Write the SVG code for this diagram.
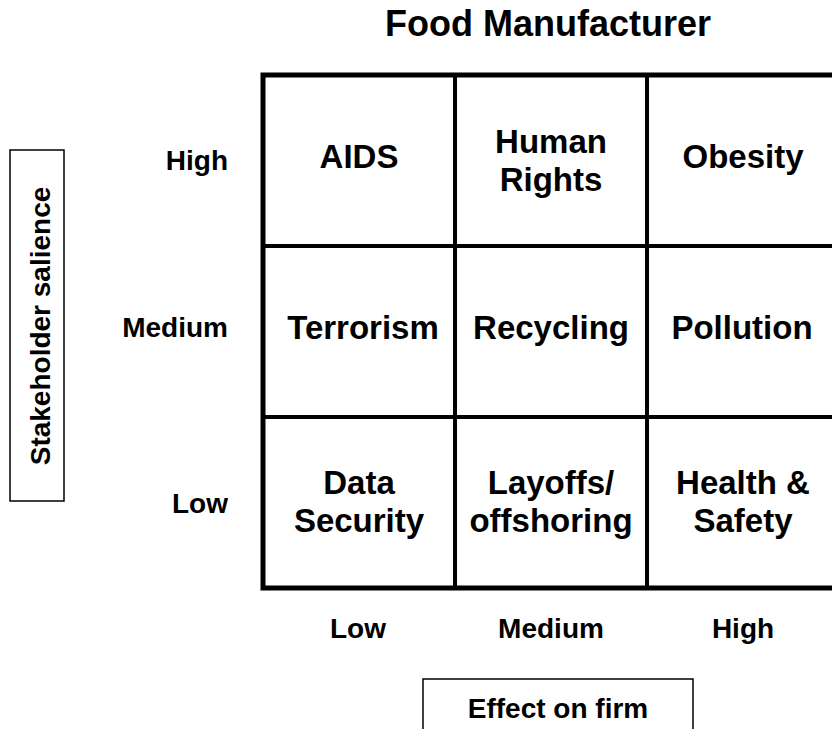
<svg xmlns="http://www.w3.org/2000/svg" width="832" height="729" viewBox="0 0 832 729">
<style>
text{font-family:"Liberation Sans",Arial,sans-serif;font-weight:bold;fill:#000}
.cell{font-size:33px;text-anchor:middle}
.ax{font-size:28px}
.mid{text-anchor:middle}
.end{text-anchor:end}
.title{font-size:36px;text-anchor:middle}
.box{fill:#fff;stroke:#000;stroke-width:1.5}
.outer{fill:none;stroke:#000;stroke-width:5}
.inner{stroke:#000;stroke-width:4}
</style>
<rect width="832" height="729" fill="#fff"/>
<text class="title" x="548" y="36">Food Manufacturer</text>
<g id="grid">
<rect class="outer" x="263" y="75" width="576" height="513"/>
<line class="inner" x1="455" y1="75" x2="455" y2="588"/>
<line class="inner" x1="647" y1="75" x2="647" y2="588"/>
<line class="inner" x1="263" y1="246" x2="839" y2="246"/>
<line class="inner" x1="263" y1="417" x2="839" y2="417"/>
</g>
<g id="cell-aids"><text class="cell" x="359" y="168">AIDS</text></g>
<g id="cell-human-rights"><text class="cell" x="551" y="153">Human</text><text class="cell" x="551" y="191">Rights</text></g>
<g id="cell-obesity"><text class="cell" x="743" y="168">Obesity</text></g>
<g id="cell-terrorism"><text class="cell" x="363" y="339">Terrorism</text></g>
<g id="cell-recycling"><text class="cell" x="551" y="339">Recycling</text></g>
<g id="cell-pollution"><text class="cell" x="742" y="339">Pollution</text></g>
<g id="cell-data-security"><text class="cell" x="359" y="494">Data</text><text class="cell" x="359" y="532">Security</text></g>
<g id="cell-layoffs"><text class="cell" x="551" y="494">Layoffs/</text><text class="cell" x="551" y="532">offshoring</text></g>
<g id="cell-health-safety"><text class="cell" x="743" y="494">Health &amp;</text><text class="cell" x="743" y="532">Safety</text></g>
<g id="y-labels">
<text class="ax end" x="228" y="170">High</text>
<text class="ax end" x="228" y="337">Medium</text>
<text class="ax end" x="228" y="513">Low</text>
</g>
<g id="x-labels">
<text class="ax mid" x="358" y="638">Low</text>
<text class="ax mid" x="551" y="638">Medium</text>
<text class="ax mid" x="743" y="638">High</text>
</g>
<g id="y-axis-title">
<rect class="box" x="10" y="150" width="54" height="351"/>
<text class="ax mid" transform="translate(50,326) rotate(-90)">Stakeholder salience</text>
</g>
<g id="x-axis-title">
<rect class="box" x="423" y="679" width="270" height="60"/>
<text class="ax mid" x="558" y="718">Effect on firm</text>
</g>
<g id="connectors"/>
</svg>
